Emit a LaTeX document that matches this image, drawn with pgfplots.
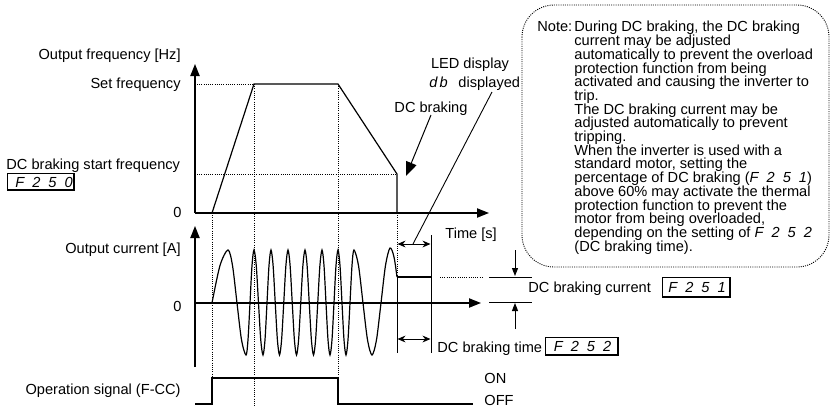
\documentclass[border=0pt]{standalone}
\usepackage{pgfplots}
\pgfplotsset{compat=1.18}
\usetikzlibrary{arrows.meta}
\usepackage{fontspec}
\setmainfont{Liberation Sans}
\newfontfamily\segfont[LetterSpace=55]{Liberation Sans}
\newfontfamily\segfontb[LetterSpace=15]{Liberation Sans}
\newcommand\seg[1]{{\segfont\itshape #1}}
\newcommand\segb[1]{{\segfontb\itshape #1}}
\begin{document}
\begin{tikzpicture}[font=\fontsize{7.3}{6.85}\selectfont,
  axl/.style={line width=0.75pt,-{Triangle[length=6pt,width=4.6pt]}},
  crv/.style={line width=0.6pt},
  dots/.style={line width=0.45pt,dash pattern=on 0.5pt off 0.6pt},
  dim/.style={line width=0.5pt,{Stealth[length=4pt,width=3.4pt]}-{Stealth[length=4pt,width=3.4pt]}},
  sarr/.style={line width=0.5pt,-{Triangle[length=4pt,width=3pt]}}]
\begin{axis}[width=416pt,height=204pt,scale only axis,
  xmin=0,xmax=832,ymin=0,ymax=408,y dir=reverse,hide axis,clip=false]
% ---------- frequency panel ----------
\addplot[dots] coordinates {(197,84) (254,84)};
\addplot[dots] coordinates {(197,174) (397,174)};
\addplot[dots] coordinates {(212,213) (212,378)};
\addplot[dots] coordinates {(254,84) (254,406)};
\addplot[dots] coordinates {(338,84) (338,378)};
\addplot[dots] coordinates {(397,213) (397,277)};
\addplot[axl] coordinates {(195,213) (195,64)};
\addplot[axl] coordinates {(195,213) (489,213)};
\addplot[crv] coordinates {(212,213) (254,84) (338,84) (397,174) (397,213)};
% ---------- current panel ----------
\addplot[axl] coordinates {(195,367) (195,226)};
\addplot[axl] coordinates {(195,303) (481,303)};
\addplot[crv,smooth] coordinates {
(212,303) (220,265.5) (228,250) (232.5,265.5) (237,303) (241.5,339.8) (246,355)
(248,339.8) (250,303) (252,265.5) (254,250) (256.25,265.5) (258.5,303) (260.75,339.8)
(263,355) (265,339.8) (267,303) (269,265.5) (271,250) (273.1,265.5) (275.25,303)
(277.4,339.8) (279.5,355) (281.6,339.8) (283.75,303) (285.9,265.5) (288,250)
(290.1,265.5) (292.25,303) (294.4,339.8) (296.5,355) (298.6,339.8) (300.75,303)
(302.9,265.5) (305,250) (307.1,265.5) (309.25,303) (311.4,339.8) (313.5,355)
(315.6,339.8) (317.75,303) (319.9,265.5) (322,250) (324,265.5) (326,303) (328,339.8)
(330,355) (332,339.8) (334,303) (336,265.5) (338,250) (340,265.5) (342,303)
(344,339.8) (346,355) (348,339.8) (350,303) (352,265.5) (354,250) (358.5,265.5)
(363,303) (367.5,339.8) (372,355) (376.5,339.8) (381,303) (385.5,265.5) (390,248)
(394,257) (397,277)};
\addplot[crv] coordinates {(397,277) (431,277)};
\addplot[line width=0.5pt] coordinates {(397,277) (397,353)};
\addplot[line width=0.5pt] coordinates {(431,235) (431,353)};
\addplot[dots] coordinates {(440,277) (482,277)};
\addplot[line width=0.5pt] coordinates {(489,277) (532,277)};
\addplot[line width=0.5pt] coordinates {(489,302) (532,302)};
\addplot[sarr] coordinates {(515,250) (515,276)};
\addplot[sarr] coordinates {(515,329) (515,303)};
\addplot[dim] coordinates {(397.5,244) (430.5,244)};
\addplot[dim] coordinates {(397.5,339) (430.5,339)};
% ---------- operation signal ----------
\addplot[crv] coordinates {(195,404) (212,404) (212,378) (338,378) (338,404) (473,404)};
% ---------- annotations ----------
\addplot[line width=0.45pt] coordinates {(492,92) (413,244)};
\addplot[line width=0.5pt,-{Triangle[length=7pt,width=5.5pt]}] coordinates {(431,115) (406,176)};
% note box
\draw[dots,rounded corners=16pt] (522,5) rectangle (829,267);
\node[anchor=base west,inner sep=0pt] at (537,31.5) {Note:};
\node[anchor=north west,align=left,inner sep=0pt] at (574,21) {During DC braking, the DC braking\\
current may be adjusted\\
automatically to prevent the overload\\
protection function from being\\
activated and causing the inverter to\\
trip.\\
The DC braking current may be\\
adjusted automatically to prevent\\
tripping.\\
When the inverter is used with a\\
standard motor, setting the\\
percentage of DC braking (\seg{F251})\\
above 60\% may activate the thermal\\
protection function to prevent the\\
motor from being overloaded,\\
depending on the setting of \seg{F252}\\
(DC braking time).};
% labels
\node[anchor=base east,inner sep=0pt] at (181,59) {Output frequency [Hz]};
\node[anchor=base east,inner sep=0pt] at (181,88) {Set frequency};
\node[anchor=base west,inner sep=0pt] at (6,169) {DC braking start frequency};
\draw[line width=0.5pt] (7,173) rectangle (74,190);
\draw[line width=0.9pt] (7,190) -- (74,190) -- (74,173);
\node[anchor=base,inner sep=0pt] at (44,187) {\seg{F250}};
\node[anchor=base east,inner sep=0pt] at (182,217) {0};
\node[anchor=base east,inner sep=0pt] at (181,253) {Output current [A]};
\node[anchor=base east,inner sep=0pt] at (182,311) {0};
\node[anchor=base east,inner sep=0pt] at (181,394) {Operation signal (F-CC)};
\node[anchor=base west,inner sep=0pt] at (484,383) {ON};
\node[anchor=base west,inner sep=0pt] at (484,405) {OFF};
\node[anchor=base west,inner sep=0pt] at (445,238) {Time [s]};
\node[anchor=base,inner sep=0pt] at (470,68) {LED display};
\node[anchor=base west,inner sep=0pt] at (429,87) {\segb{db}};
\node[anchor=base west,inner sep=0pt] at (458,87) {displayed};
\node[anchor=base,inner sep=0pt] at (431,112) {DC braking};
\node[anchor=base west,inner sep=0pt] at (528,292) {DC braking current};
\draw[line width=0.5pt] (662,277) rectangle (730,297);
\draw[line width=0.9pt] (662,297) -- (730,297) -- (730,277);
\node[anchor=base,inner sep=0pt] at (697,292) {\seg{F251}};
\node[anchor=base west,inner sep=0pt] at (437,352) {DC braking time};
\draw[line width=0.5pt] (545,337) rectangle (618,355);
\draw[line width=0.9pt] (545,355) -- (618,355) -- (618,337);
\node[anchor=base,inner sep=0pt] at (582.5,351) {\seg{F252}};
\end{axis}
\pgfresetboundingbox
\path (0,0) rectangle (416pt,204pt);
\end{tikzpicture}
\end{document}
